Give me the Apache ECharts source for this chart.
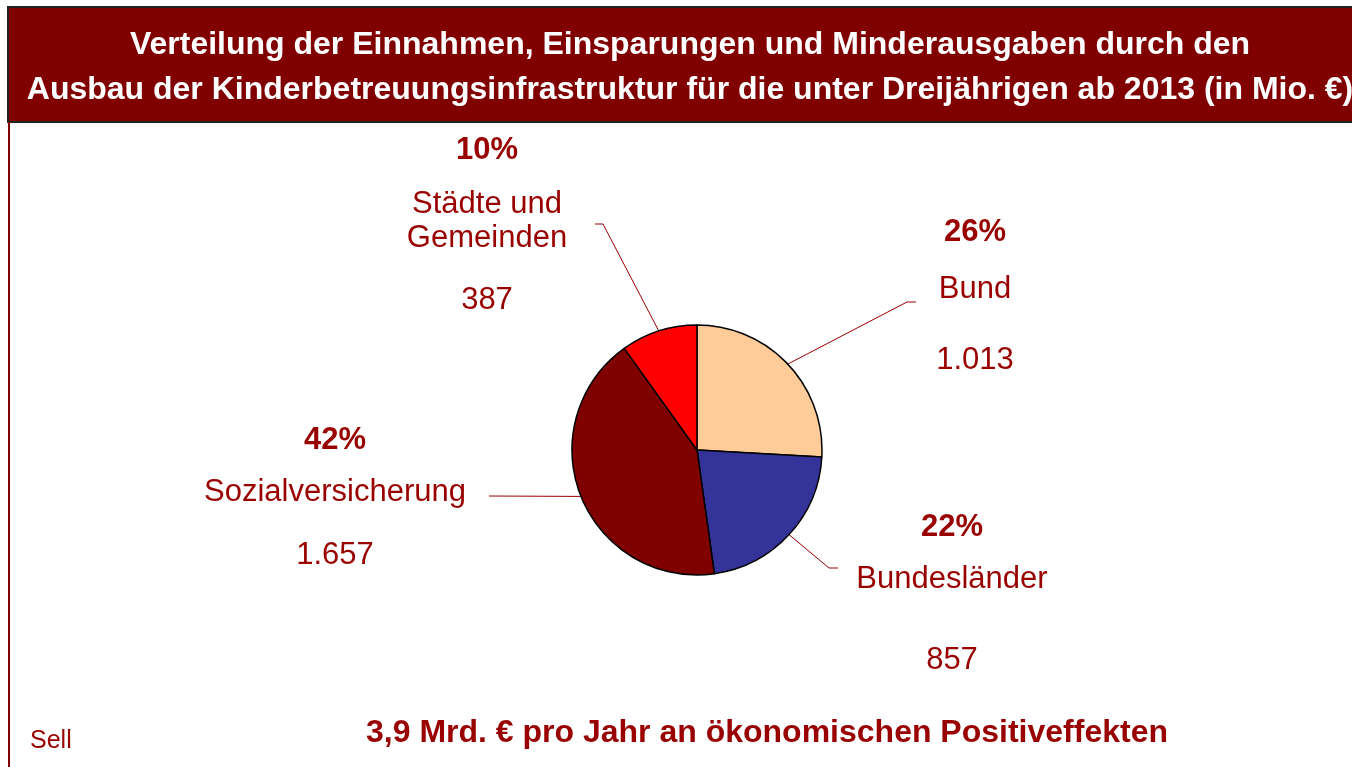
<!DOCTYPE html>
<html>
<head>
<meta charset="utf-8">
<title>Verteilung der Einnahmen</title>
<script src="https://cdn.jsdelivr.net/npm/echarts@6/dist/echarts.min.js"></script>
<style>
  html, body { margin: 0; padding: 0; background: #fff; }
  #chart { width: 1352px; height: 767px; }
</style>
</head>
<body>
<div id="chart"></div>
<script>
// Daten (in Mio. €)
var categories = ["Bund", "Bundesländer", "Sozialversicherung", "Städte und\nGemeinden"];
var values = [1013, 857, 1657, 387];
var colors = ["#FFCC99", "#333399", "#800000", "#FF0000"];

var titleLines = [
  "Verteilung der Einnahmen, Einsparungen und Minderausgaben durch den",
  "Ausbau der Kinderbetreuungsinfrastruktur für die unter Dreijährigen ab 2013 (in Mio. €)"
];
var footerText = "3,9 Mrd. € pro Jahr an ökonomischen Positiveffekten";
var sourceText = "Sell";

// Beschriftung: Mitte x, obere Kante y, Abstände, Endpunkt der Führungslinie
var labelPos = [
  { x: 975, y: 215, gap1: 23, gap2: 37, lx: 907, ly: 302, dx: 9 },
  { x: 952, y: 510, gap1: 18, gap2: 47, lx: 829, ly: 568, dx: 9 },
  { x: 335, y: 423, gap1: 18, gap2: 29, lx: 489, ly: 496, dx: 0 },
  { x: 487, y: 133, gap1: 20, gap2: 28, lx: 603, ly: 224, dx: -8 }
];

var textColor = "#990000";
var font = "Liberation Sans, Arial, sans-serif";

function fmt(v) {
  return String(v).replace(/\B(?=(\d{3})+(?!\d))/g, ".");
}

var rich = {
  p: { fontSize: 31, fontWeight: "bold", color: textColor, lineHeight: 34, fontFamily: font, align: "center" },
  n: { fontSize: 31, color: textColor, lineHeight: 34, fontFamily: font, align: "center" },
  v: { fontSize: 31, color: textColor, lineHeight: 34, fontFamily: font, align: "center" }
};
labelPos.forEach(function (lp, i) {
  rich["a" + i] = { fontSize: 1, lineHeight: lp.gap1 };
  rich["b" + i] = { fontSize: 1, lineHeight: lp.gap2 };
});

var chart = echarts.init(document.getElementById("chart"));

var option = {
  backgroundColor: "#fff",
  animation: false,
  graphic: [
    {
      type: "rect",
      shape: { x: 8, y: 7, width: 1360, height: 115 },
      style: { fill: "#800000", stroke: "#222", lineWidth: 2 },
      z: 0
    },
    {
      type: "line",
      shape: { x1: 9, y1: 122, x2: 9, y2: 767 },
      style: { stroke: "#800000", lineWidth: 2 }
    },
    {
      type: "text",
      x: 690, y: 45,
      style: {
        text: titleLines[0], fill: "#fff", font: "bold 32px " + font,
        textAlign: "center", textVerticalAlign: "middle"
      },
      z: 5
    },
    {
      type: "text",
      x: 690, y: 90,
      style: {
        text: titleLines[1], fill: "#fff", font: "bold 32px " + font,
        textAlign: "center", textVerticalAlign: "middle"
      },
      z: 5
    },
    {
      type: "text",
      x: 767, y: 733,
      style: {
        text: footerText, fill: textColor, font: "bold 32px " + font,
        textAlign: "center", textVerticalAlign: "middle"
      }
    },
    {
      type: "text",
      x: 30, y: 741,
      style: {
        text: sourceText, fill: textColor, font: "25px " + font,
        textAlign: "left", textVerticalAlign: "middle"
      }
    }
  ],
  series: [
    {
      type: "pie",
      center: [697, 450],
      radius: 125,
      startAngle: 90,
      clockwise: true,
      avoidLabelOverlap: false,
      itemStyle: { borderColor: "#000", borderWidth: 1.5 },
      label: {
        show: true,
        position: "outside",
        formatter: function (p) {
          var i = p.dataIndex;
          var names = p.name.split("\n").map(function (s) { return "{n|" + s + "}"; }).join("\n");
          return "{p|" + Math.round(p.percent) + "%}\n{a" + i + "| }\n" + names +
            "\n{b" + i + "| }\n{v|" + fmt(p.value) + "}";
        },
        rich: rich
      },
      labelLine: {
        show: true,
        length: 20,
        length2: 8,
        smooth: false,
        lineStyle: { color: textColor, width: 1 }
      },
      labelLayout: function (params) {
        var lp = labelPos[params.dataIndex];
        var out = { x: lp.x, y: lp.y, align: "center", verticalAlign: "top" };
        if (params.labelLinePoints && params.labelLinePoints.length) {
          var start = params.labelLinePoints[0];
          out.labelLinePoints = [
            [start[0], start[1]],
            [lp.lx, lp.ly],
            [lp.lx + lp.dx, lp.ly]
          ];
        }
        return out;
      },
      data: categories.map(function (c, i) {
        return { name: c, value: values[i], itemStyle: { color: colors[i] } };
      })
    }
  ]
};

chart.setOption(option);
window.addEventListener("resize", function () { chart.resize(); });
</script>
</body>
</html>
